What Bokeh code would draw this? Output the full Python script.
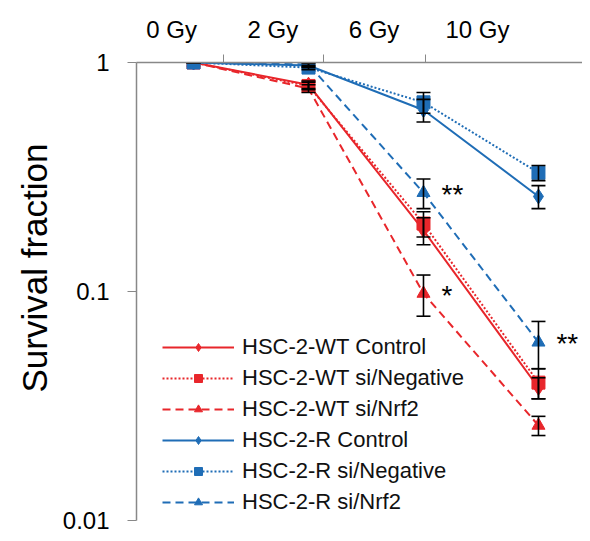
from bokeh.plotting import figure
from bokeh.models import (ColumnDataSource, Whisker, TeeHead, FixedTicker, Range1d,
                          Legend, LegendItem, Label, Title)
from bokeh.embed import file_html
from bokeh.resources import INLINE

# ---- data ----
doses = ["0 Gy", "2 Gy", "6 Gy", "10 Gy"]
dose_idx = [0, 1, 2, 3]

wt_control = [1.0, 0.80, 0.185, 0.038]
wt_control_err = [0.0, 0.03, 0.025, 0.004]
wt_sineg = [1.0, 0.79, 0.198, 0.040]
wt_sineg_err = [0.0, 0.03, 0.025, 0.006]
wt_sinrf2 = [1.0, 0.77, 0.098, 0.026]
wt_sinrf2_err = [0.0, 0.03, 0.02, 0.0025]
r_control = [1.0, 0.97, 0.62, 0.26]
r_control_err = [0.0, 0.02, 0.07, 0.03]
r_sineg = [1.0, 0.95, 0.67, 0.33]
r_sineg_err = [0.0, 0.02, 0.07, 0.025]
r_sinrf2 = [1.0, 0.98, 0.27, 0.060]
r_sinrf2_err = [0.0, 0.02, 0.04, 0.014]

labels = ["HSC-2-WT Control", "HSC-2-WT si/Negative", "HSC-2-WT si/Nrf2",
          "HSC-2-R Control", "HSC-2-R si/Negative", "HSC-2-R si/Nrf2"]

# significance marks: (text, dose index, y value)
sig_text = ["**", "*", "**"]
sig_dose = [2, 2, 3]
sig_y = [0.27, 0.098, 0.060]

y_title = "Survival fraction"

RED = "#E8262B"
BLUE = "#1F6DB6"
FONT = "Liberation Sans"

XMIN, XMAX = -0.496, 3.383
p = figure(width=582, height=533, y_axis_type="log", x_axis_location="above",
           x_range=Range1d(XMIN, XMAX), y_range=Range1d(0.01, 1.0),
           output_backend="svg", toolbar_location=None,
           min_border_left=136, min_border_right=0, min_border_top=62,
           min_border_bottom=13)
p.outline_line_color = None
p.xgrid.visible = False
p.ygrid.visible = False
p.background_fill_color = "white"
p.border_fill_color = "white"

series = [
    (wt_control, wt_control_err, RED, "solid", "diamond", 15),
    (wt_sineg, wt_sineg_err, RED, "2 2", "square", 13),
    (wt_sinrf2, wt_sinrf2_err, RED, "8 5", "triangle", 13),
    (r_control, r_control_err, BLUE, "solid", "diamond", 15),
    (r_sineg, r_sineg_err, BLUE, "2 2", "square", 13),
    (r_sinrf2, r_sinrf2_err, BLUE, "8 5", "triangle", 13),
]

items = []
for (vals, errs, col, dash, marker, size), lab in zip(series, labels):
    up = [v + e for v, e in zip(vals, errs)]
    lo = [v - e for v, e in zip(vals, errs)]
    src = ColumnDataSource(dict(x=dose_idx, y=vals, up=up, lo=lo))
    ln = p.line("x", "y", source=src, line_color=col, line_width=2, line_dash=dash)
    sc = p.scatter("x", "y", source=src, marker=marker, size=size,
                   fill_color=col, line_color=col)
    w = Whisker(source=src, base="x", upper="up", lower="lo",
                line_color="black", line_width=1.6, level="glyph",
                upper_head=TeeHead(size=14, line_color="black", line_width=1.6),
                lower_head=TeeHead(size=14, line_color="black", line_width=1.6))
    p.add_layout(w)
    items.append(LegendItem(label=lab, renderers=[ln, sc]))

for t, d, yv in zip(sig_text, sig_dose, sig_y):
    p.add_layout(Label(x=dose_idx[d], y=yv, text=t, x_offset=18, y_offset=-17,
                       text_font=FONT, text_font_size="28px", text_color="black"))

legend = Legend(items=items, location=(26, 5), glyph_width=72, glyph_height=20,
                label_height=20, spacing=5, padding=0, margin=0,
                label_text_font=FONT, label_text_font_size="22px",
                label_text_color="#111111", background_fill_alpha=0,
                border_line_color=None, label_standoff=8)
p.add_layout(legend, "center")

# y-axis title as a side title so it can sit a little above the frame centre
p.add_layout(Title(text=y_title, align="left", offset=128, standoff=11,
                   text_font=FONT, text_font_size="35px",
                   text_font_style="normal", text_color="black"), "left")

# top category axis (labels as drawn in the reference, boundary ticks as minor ticks)
xa = p.xaxis[0]
label_pos = [-0.19, 0.69, 1.57, 2.47]
xa.ticker = FixedTicker(ticks=label_pos, minor_ticks=[0.26, 1.13, 2.02])
xa.major_label_overrides = {lp: d for lp, d in zip(label_pos, doses)}
xa.major_tick_out = 0
xa.major_tick_in = 0
xa.minor_tick_out = 8
xa.minor_tick_in = 0
xa.minor_tick_line_color = "#888888"
xa.axis_line_color = "#888888"
xa.axis_line_width = 1.5
xa.major_label_text_font = FONT
xa.major_label_text_font_size = "24px"
xa.major_label_text_color = "black"
xa.major_label_standoff = 12

ya = p.yaxis[0]
ya.ticker = FixedTicker(ticks=[0.01, 0.1, 1.0], minor_ticks=[])
ya.major_label_overrides = {0.01: "0.01", 0.1: "0.1", 1.0: "1"}
ya.major_tick_out = 9
ya.major_tick_in = 0
ya.minor_tick_out = 0
ya.minor_tick_in = 0
ya.major_tick_line_color = "#888888"
ya.axis_line_color = "#888888"
ya.axis_line_width = 1.5
ya.major_label_text_font = FONT
ya.major_label_text_font_size = "24px"
ya.major_label_text_color = "black"
ya.major_label_standoff = 18

open("out.html", "w").write(file_html(p, INLINE))
